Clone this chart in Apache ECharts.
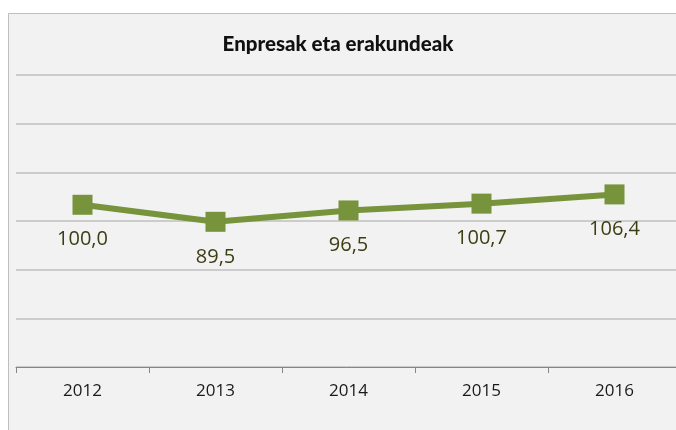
<!DOCTYPE html>
<html>
<head>
<meta charset="utf-8">
<script src="https://cdn.jsdelivr.net/npm/echarts@6/dist/echarts.min.js"></script>
<style>
  html, body { margin: 0; padding: 0; background: #ffffff; }
  #main { width: 676px; height: 430px; }
</style>
</head>
<body>
<div id="main"></div>
<script>
// datuak
var years = ['2012', '2013', '2014', '2015', '2016']
var values = [100.0, 89.5, 96.5, 100.7, 106.4]

var myChart = echarts.init(document.getElementById('main'))
const option = {
  backgroundColor: '#ffffff',
  graphic: [
    {
      type: 'rect',
      z: -10,
      shape: { x: 8.5, y: 13.5, width: 700, height: 450 },
      style: { fill: '#f2f2f2', stroke: '#bfbfbf', lineWidth: 1 }
    }
  ],
  title: {
    text: 'Enpresak eta erakundeak',
    left: 'center',
    top: 29,
    textStyle: {
      fontFamily: 'Lato',
      fontWeight: 900,
      fontSize: 20.5,
      color: '#111111'
    }
  },
  grid: {
    left: 16,
    top: 75,
    width: 665,
    height: 292,
    outerBoundsMode: 'none',
    containLabel: false
  },
  xAxis: {
    type: 'category',
    data: years,
    boundaryGap: true,
    axisLine: { lineStyle: { color: '#868686', width: 1 } },
    axisTick: { show: true, length: 6, lineStyle: { color: '#868686' } },
    axisLabel: {
      margin: 16,
      fontFamily: 'Open Sans',
      fontSize: 17,
      color: '#1a1a1a'
    }
  },
  yAxis: {
    type: 'value',
    min: 0,
    max: 180,
    interval: 30,
    axisLine: { show: false },
    axisTick: { show: false },
    axisLabel: { show: false },
    splitLine: { lineStyle: { color: '#bfbfbf', width: 1.5 } }
  },
  series: [
    {
      type: 'line',
      data: values,
      symbol: 'rect',
      symbolSize: 20,
      lineStyle: { color: '#77933c', width: 6 },
      itemStyle: { color: '#77933c' },
      label: {
        show: true,
        position: 'bottom',
        distance: 15,
        fontFamily: 'Open Sans',
        fontSize: 20,
        color: '#3d3d12',
        formatter: function (p) {
          return p.value.toFixed(1).replace('.', ',')
        }
      },
      animation: false
    }
  ]
}
myChart.setOption(option)
</script>
</body>
</html>
